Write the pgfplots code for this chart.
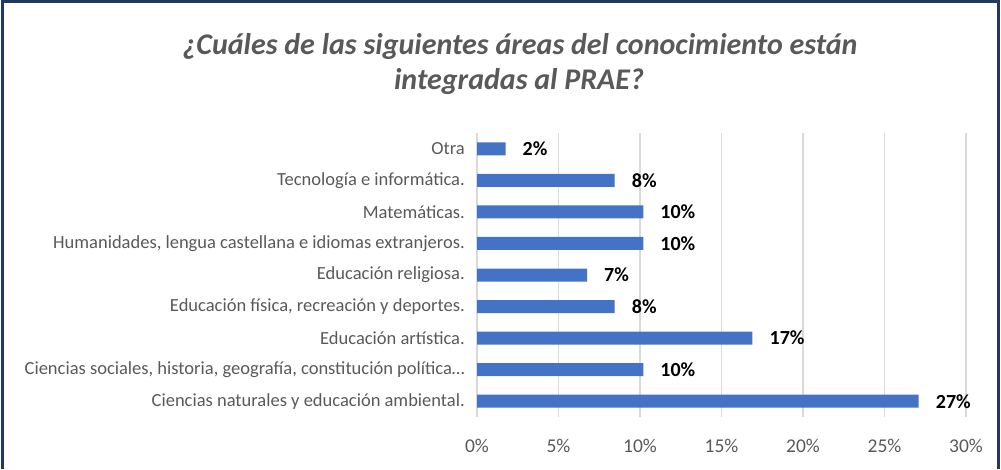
\documentclass[border=0pt]{standalone}
\usepackage{fontspec}
\setmainfont{Carlito}
\usepackage{pgfplots}
\pgfplotsset{compat=1.18}
\definecolor{barblue}{HTML}{4472C4}
\definecolor{txtgray}{HTML}{595959}
\definecolor{gridgray}{HTML}{D9D9D9}
\definecolor{frameblue}{HTML}{203864}
\begin{document}
\begin{tikzpicture}[x=1pt,y=1pt]
\path[use as bounding box] (0,0) rectangle (1001,469);
\draw[frameblue,line width=2.2pt] (2.5,0) -- (2.5,467.5) -- (998.5,467.5) -- (998.5,0);
\node[font=\fontsize{30}{36}\selectfont\bfseries\itshape,text=txtgray,anchor=base,inner sep=0pt] at (520,414) {¿Cuáles de las siguientes áreas del conocimiento están};
\node[font=\fontsize{30}{36}\selectfont\bfseries\itshape,text=txtgray,anchor=base,inner sep=0pt] at (519,379) {integradas al PRAE?};
\begin{axis}[
  at={(477pt,52pt)}, anchor=south west,
  scale only axis, width=489pt, height=284pt,
  xbar, bar width=13pt,
  xmin=0, xmax=30, ymin=-0.5, ymax=8.5,
  xtick={0,5,10,15,20,25,30},
  xticklabel={\pgfmathprintnumber{\tick}\%},
  /pgf/number format/assume math mode=true,
  xticklabel style={font=\fontsize{19.5}{22}\selectfont, text=txtgray, anchor=center, inner sep=0pt, yshift=-29pt},
  ytick={0,1,2,3,4,5,6,7,8},
  yticklabels={
    {Ciencias naturales y educación ambiental.\hspace{12pt}},
    {Ciencias sociales, historia, geografía, constitución política…\hspace{-3pt}},
    {Educación artística.\hspace{9pt}},
    {Educación física, recreación y deportes.\hspace{8pt}},
    {Educación religiosa.\hspace{3pt}},
    {Humanidades, lengua castellana e idiomas extranjeros.\hspace{4pt}},
    {Matemáticas.\hspace{4pt}},
    {Tecnología e informática.\hspace{1pt}},
    {Otra}},
  yticklabel style={font=\fontsize{18.5}{22}\selectfont, text=txtgray, anchor=east, inner sep=0pt, xshift=-12pt},
  major tick length=0pt,
  axis line style={draw=none},
  xmajorgrids, grid style={gridgray, line width=1.3pt},
  nodes near coords,
  point meta=explicit symbolic,
  every node near coord/.append style={font=\fontsize{20}{24}\selectfont\bfseries, text=black, anchor=west, inner sep=0pt, xshift=17pt},
]
\addplot[fill=barblue, draw=none] coordinates {
  (27.1,0) [27\%]
  (10.2,1) [10\%]
  (16.9,2) [17\%]
  (8.45,3) [8\%]
  (6.75,4) [7\%]
  (10.2,5) [10\%]
  (10.2,6) [10\%]
  (8.45,7) [8\%]
  (1.75,8) [2\%]
};
\end{axis}
\end{tikzpicture}
\end{document}
